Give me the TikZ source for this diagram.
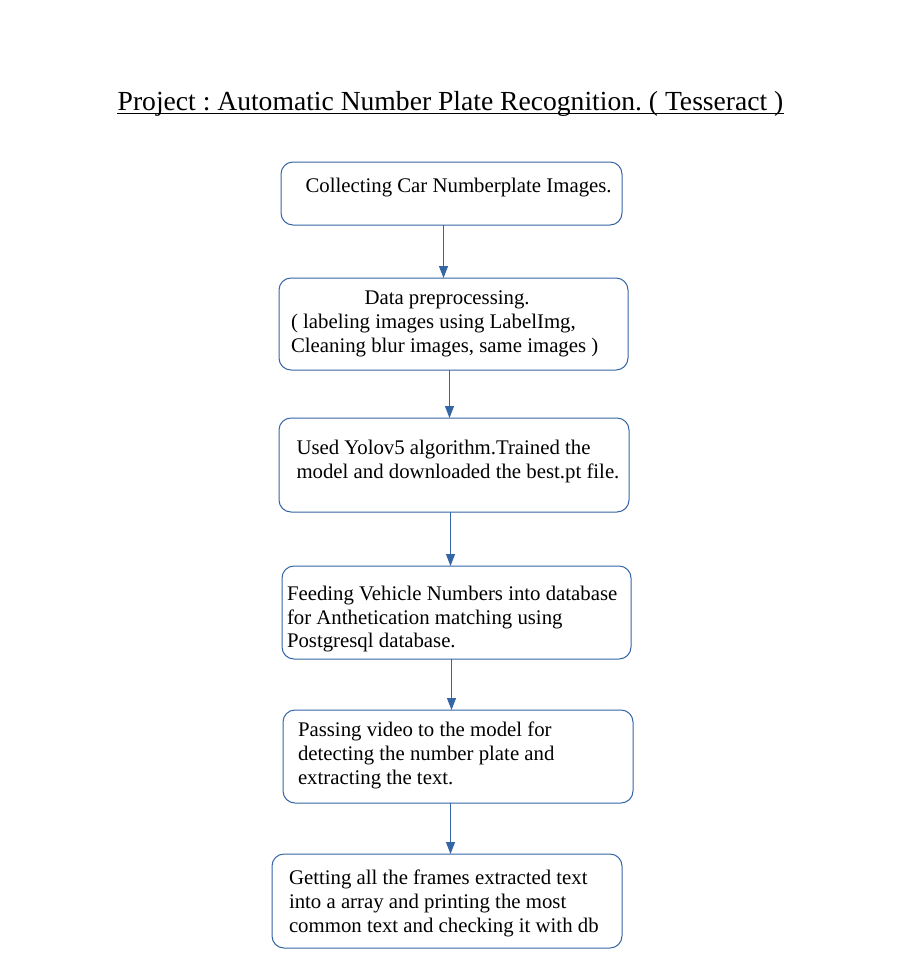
\documentclass[tikz,border=0pt]{standalone}
\usepackage{fontspec}
\setmainfont{Liberation Serif}
\usetikzlibrary{arrows.meta}
\frenchspacing
\definecolor{lblue}{HTML}{3465A4}
\newcommand{\bodyfont}{\fontsize{20.8pt}{24pt}\selectfont}
\newcommand{\titlefont}{\fontsize{27.6pt}{32pt}\selectfont}
\tikzset{
  box/.style={draw=lblue, line width=1pt, rounded corners=12pt, inner sep=0pt, outer sep=0pt},
  ln/.style={anchor=base west, inner sep=0pt, outer sep=0pt, font=\bodyfont},
  arr/.style={draw=lblue, line width=1pt, -{Triangle[length=12pt,width=9pt]}}
}
\begin{document}
\begin{tikzpicture}[x=1pt,y=-1pt]
\useasboundingbox (0,0) rectangle (914,962);
% title
\node[anchor=base, inner sep=0pt, font=\titlefont] (title) at (450.5,110) {\frenchspacing Project : Automatic Number Plate Recognition. ( Tesseract )};
\draw[line width=1pt] ([yshift=-3.5pt]title.base west) -- ([yshift=-3.5pt]title.base east);
% boxes
\node[box, minimum width=341pt, minimum height=63pt] (b1) at (451.5,193.5) {};
\node[box, minimum width=349pt, minimum height=92pt] (b2) at (453.5,324) {};
\node[box, minimum width=350pt, minimum height=94pt] (b3) at (454,465) {};
\node[box, minimum width=349pt, minimum height=93pt] (b4) at (456.5,612.5) {};
\node[box, minimum width=350pt, minimum height=93pt] (b5) at (458,756.5) {};
\node[box, minimum width=350pt, minimum height=94pt] (b6) at (447,901) {};
% texts
\node[ln] (t1a) at (305.5,192) {Collecting Car Numberplate Images.};
\node[ln] (t2a) at (364.5,304) {Data preprocessing.};
\node[ln] (t2b) at (291,328) {( labeling images using LabelImg,};
\node[ln] (t2c) at (291,352) {Cleaning blur images, same images )};
\node[ln] (t3a) at (296.5,454) {Used Yolov5 algorithm.Trained the};
\node[ln] (t3b) at (296.5,478) {model and downloaded the best.pt file.};
\node[ln] (t4a) at (287,600) {Feeding Vehicle Numbers into database};
\node[ln] (t4b) at (287,624) {for Anthetication matching using};
\node[ln] (t4c) at (287,647.5) {Postgresql database.};
\node[ln] (t5a) at (298,736) {Passing video to the model for};
\node[ln] (t5b) at (298,760) {detecting the number plate and};
\node[ln] (t5c) at (298,784) {extracting the text.};
\node[ln] (t6a) at (289,884) {Getting all the frames extracted text};
\node[ln] (t6b) at (289,908) {into a array and printing the most};
\node[ln] (t6c) at (289,932) {common text and checking it with db};
% arrow x positions
\coordinate (x1) at (443.5,0);
\coordinate (x2) at (449.5,0);
\coordinate (x3) at (450.5,0);
\coordinate (x4) at (451.5,0);
\coordinate (x5) at (450.5,0);
\draw[arr] (x1 |- b1.south) -- (x1 |- b2.north);
\draw[arr] (x2 |- b2.south) -- (x2 |- b3.north);
\draw[arr] (x3 |- b3.south) -- (x3 |- b4.north);
\draw[arr] (x4 |- b4.south) -- (x4 |- b5.north);
\draw[arr] (x5 |- b5.south) -- (x5 |- b6.north);
\end{tikzpicture}
\end{document}
